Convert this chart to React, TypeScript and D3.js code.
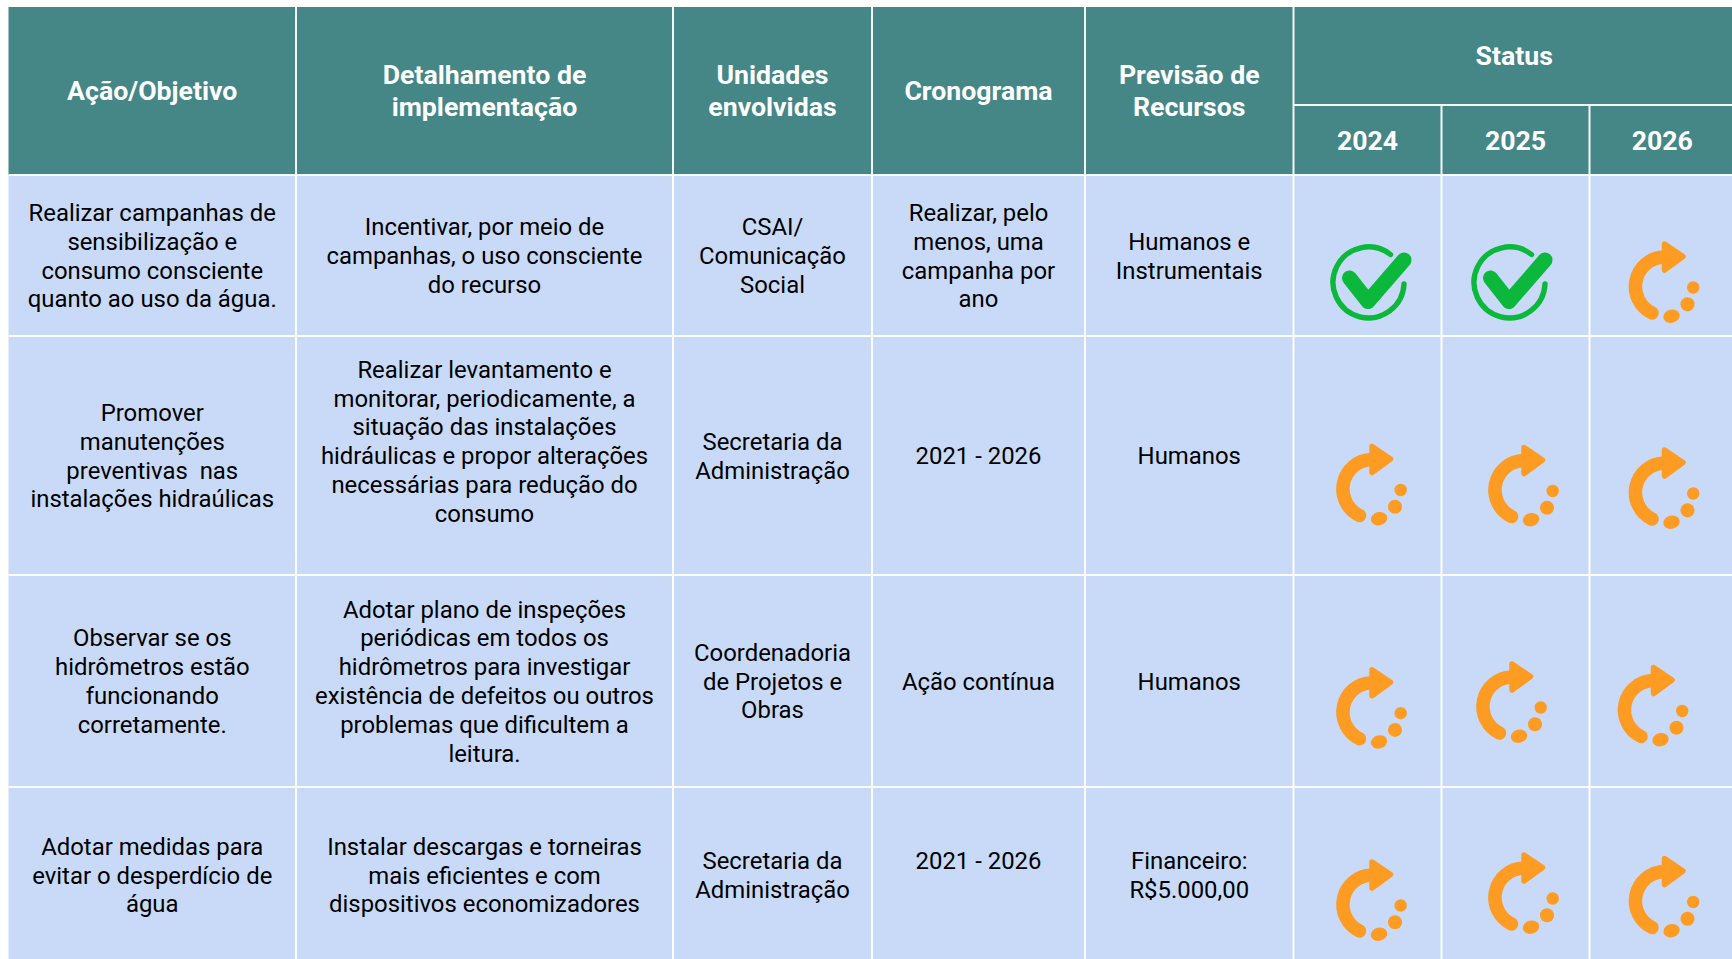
import React from "react";
import * as d3 from "d3";

const headers = [["Ação/Objetivo"], ["Detalhamento de", "implementação"], ["Unidades", "envolvidas"], ["Cronograma"], ["Previsão de", "Recursos"]];
const statusTitle = "Status";
const years = ["2024", "2025", "2026"];

const acoes = [
  ["Realizar campanhas de", "sensibilização e", "consumo consciente", "quanto ao uso da água."],
  ["Promover", "manutenções", "preventivas  nas", "instalações hidraúlicas"],
  ["Observar se os", "hidrômetros estão", "funcionando", "corretamente."],
  ["Adotar medidas para", "evitar o desperdício de", "água"],
];
const detalhes = [
  ["Incentivar, por meio de", "campanhas, o uso consciente", "do recurso"],
  ["Realizar levantamento e", "monitorar, periodicamente, a", "situação das instalações", "hidráulicas e propor alterações", "necessárias para redução do", "consumo", ""],
  ["Adotar plano de inspeções", "periódicas em todos os", "hidrômetros para investigar", "existência de defeitos ou outros", "problemas que dificultem a", "leitura."],
  ["Instalar descargas e torneiras", "mais eficientes e com", "dispositivos economizadores"],
];
const unidades = [
  ["CSAI/", "Comunicação", "Social"],
  ["Secretaria da", "Administração"],
  ["Coordenadoria", "de Projetos e", "Obras"],
  ["Secretaria da", "Administração"],
];
const cronograma = [
  ["Realizar, pelo", "menos, uma", "campanha por", "ano"],
  ["2021 - 2026"],
  ["Ação contínua"],
  ["2021 - 2026", ""],
];
const recursos = [
  ["Humanos e", "Instrumentais"],
  ["Humanos"],
  ["Humanos"],
  ["Financeiro:", "R$5.000,00"],
];
const status = [
  ["done", "done", "progress"],
  ["progress", "progress", "progress"],
  ["progress", "progress", "progress"],
  ["progress", "progress", "progress"],
];

// layout (kept apart from the data)
const colEdges = [8.5, 296, 673, 872, 1085, 1293.5, 1441.5, 1589.5, 1735];
const rowEdges = [175, 336, 575, 787, 963];
const headTop = 7;
const headMid = 105;
const iconCenters = [
  [[1370, 284], [1511, 284], [1663, 286]],
  [[1370.5, 488.5], [1522.5, 489.5], [1663, 492]],
  [[1370.5, 711.7], [1510.5, 706], [1652, 709.5]],
  [[1370.5, 904], [1522.5, 897], [1663, 900.5]],
];

const TEAL = "#458686";
const BLUE = "#c9daf8";
const GREEN = "#0bb83b";
const ORANGE = "#fd9b23";
const FONT = "Roboto, sans-serif";
const BODY_SIZE = 23.9;
const BODY_LH = 28.8;
const HEAD_SIZE = 26.7;
const HEAD_LH = 32;

const x = d3.scaleLinear().domain(d3.range(colEdges.length)).range(colEdges);
const y = d3.scaleLinear().domain(d3.range(rowEdges.length)).range(rowEdges);

function Lines({ lines, cx, cy, lh, size, fill, weight }: any) {
  const top = cy - ((lines.length - 1) * lh) / 2;
  return (
    <>
      {lines.map((t: string, i: number) => (
        <text key={i} x={cx} y={top + i * lh} dy="0.36em" textAnchor="middle" fontFamily={FONT}
          fontSize={size} fontWeight={weight} fill={fill} style={{ whiteSpace: "pre" }}>
          {t}
        </text>
      ))}
    </>
  );
}

function CheckIcon({ cx, cy }: any) {
  return (
    <g transform={`translate(${cx},${cy})`}>
      <path d="M 34 0 A 35.5 35.5 0 1 1 20.5 -29.5" fill="none" stroke={GREEN} strokeWidth={5.4} strokeLinecap="round" />
      <path d="M -20.5 -6 L -2 17.5 L 34 -24" fill="none" stroke={GREEN} strokeWidth={15} strokeLinecap="round" strokeLinejoin="round" />
    </g>
  );
}

function ProgressIcon({ cx, cy }: any) {
  return (
    <g transform={`translate(${cx},${cy})`} fill={ORANGE}>
      <path d="M 1 -29 A 29.5 29.5 0 0 0 -11 27" fill="none" stroke={ORANGE} strokeWidth={13.5} strokeLinecap="round" />
      <path d="M 1.5 -42 L 20 -29.5 L 1.5 -16 Z" stroke={ORANGE} strokeWidth={5.5} strokeLinejoin="round" />
      <circle cx={30.2} cy={1.5} r={6.2} />
      <circle cx={24.5} cy={18.2} r={7} />
      <ellipse cx={8.5} cy={30.2} rx={8.3} ry={6.6} transform="rotate(-15 8.5 30.2)" />
    </g>
  );
}

export default function App() {
  const bodyCols = [acoes, detalhes, unidades, cronograma, recursos];
  return (
    <svg width={1732} height={959} viewBox="0 0 1732 959" style={{ position: "absolute", left: 0, top: 0, background: "#fff" }}>
      <rect x={x(0)} y={headTop} width={x(8) - x(0)} height={y(0) - headTop} fill={TEAL} />
      <rect x={x(0)} y={y(0)} width={x(8) - x(0)} height={y(4) - y(0)} fill={BLUE} />
      <g stroke="#fff" strokeWidth={2} opacity={0.95}>
        {d3.range(1, 8).map((i) => (
          <line key={i} x1={x(i)} x2={x(i)} y1={i >= 6 ? headMid : headTop} y2={959} />
        ))}
        {d3.range(0, 4).map((i) => (
          <line key={i} x1={x(0)} x2={1732} y1={y(i)} y2={y(i)} />
        ))}
        <line x1={x(5)} x2={1732} y1={headMid} y2={headMid} />
      </g>
      {headers.map((lines, i) => (
        <Lines key={i} lines={lines} cx={(x(i) + x(i + 1)) / 2} cy={(headTop + y(0)) / 2 - 0.5} lh={HEAD_LH} size={HEAD_SIZE} weight={700} fill="#fff" />
      ))}
      <Lines lines={[statusTitle]} cx={(x(5) + x(8)) / 2} cy={(headTop + headMid) / 2 - 0.5} lh={HEAD_LH} size={HEAD_SIZE} weight={700} fill="#fff" />
      {years.map((yr, i) => (
        <Lines key={yr} lines={[yr]} cx={(x(5 + i) + x(6 + i)) / 2} cy={(headMid + y(0)) / 2} lh={HEAD_LH} size={HEAD_SIZE} weight={700} fill="#fff" />
      ))}
      {bodyCols.map((col, c) =>
        col.map((lines, r) => (
          <Lines key={`${c}-${r}`} lines={lines} cx={(x(c) + x(c + 1)) / 2} cy={(y(r) + y(r + 1)) / 2} lh={BODY_LH} size={BODY_SIZE} weight={400} fill="#000" />
        ))
      )}
      {status.map((row, r) =>
        row.map((s, c) => {
          const [cx, cy] = iconCenters[r][c];
          return s === "done" ? <CheckIcon key={`${r}-${c}`} cx={cx} cy={cy} /> : <ProgressIcon key={`${r}-${c}`} cx={cx} cy={cy} />;
        })
      )}
    </svg>
  );
}
